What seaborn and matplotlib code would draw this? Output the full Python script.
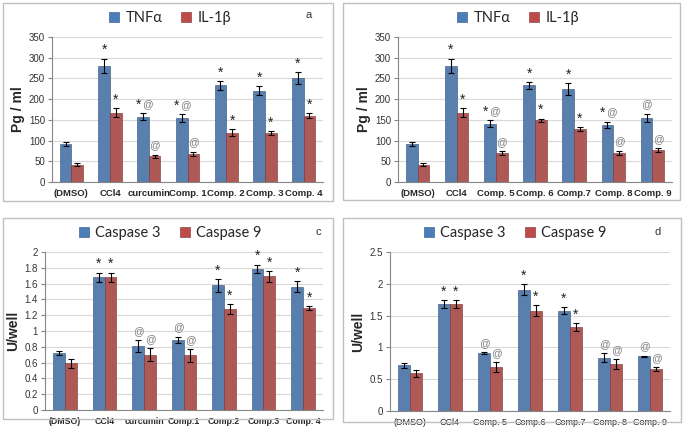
import pandas as pd
import numpy as np
import matplotlib.pyplot as plt
import seaborn as sns
from matplotlib.patches import Patch, Rectangle

sns.set_style("white")
plt.rcParams['font.family'] = ['Liberation Sans', 'DejaVu Sans']

BLUE = '#4A7EBB'
RED = '#BE4B48'

# ---- data ----
groups_a = ['(DMSO)', 'CCl4', 'curcumin', 'Comp. 1', 'Comp. 2', 'Comp. 3', 'Comp. 4']
tnf_a = [92, 281, 158, 154, 233, 220, 251]
tnf_a_err = [4, 17, 8, 10, 10, 11, 14]
il_a = [42, 167, 62, 68, 119, 118, 160]
il_a_err = [3, 11, 4, 5, 8, 4, 6]
tnf_a_marks = ['', '*', '*@', '*@', '*', '*', '*']
il_a_marks = ['', '*', '@', '@', '*', '*', '*']

groups_b = ['(DMSO)', 'CCl4', 'Comp. 5', 'Comp. 6', 'Comp.7', 'Comp. 8', 'Comp. 9']
tnf_b = [92, 281, 141, 233, 225, 138, 155]
tnf_b_err = [4, 17, 8, 8, 14, 8, 10]
il_b = [42, 167, 69, 149, 128, 71, 77]
il_b_err = [3, 11, 5, 4, 5, 5, 5]
tnf_b_marks = ['', '*', '*@', '*', '*', '*@', '@']
il_b_marks = ['', '*', '@', '*', '*', '@', '@']

groups_c = ['(DMSO)', 'CCl4', 'curcumin', 'Comp.1', 'Comp.2', 'Comp.3', 'Comp. 4']
casp3_c = [0.72, 1.68, 0.81, 0.89, 1.58, 1.79, 1.56]
casp3_c_err = [0.03, 0.06, 0.07, 0.04, 0.08, 0.05, 0.07]
casp9_c = [0.59, 1.68, 0.70, 0.69, 1.28, 1.69, 1.29]
casp9_c_err = [0.06, 0.06, 0.08, 0.08, 0.06, 0.07, 0.03]
casp3_c_marks = ['', '*', '@', '@', '*', '*', '*']
casp9_c_marks = ['', '*', '@', '@', '*', '*', '*']

groups_d = ['(DMSO)', 'CCl4', 'Comp. 5', 'Comp.6', 'Comp.7', 'Comp. 8', 'Comp. 9']
casp3_d = [0.72, 1.68, 0.91, 1.91, 1.58, 0.84, 0.86]
casp3_d_err = [0.04, 0.06, 0.01, 0.08, 0.06, 0.07, 0.01]
casp9_d = [0.59, 1.68, 0.69, 1.58, 1.32, 0.74, 0.66]
casp9_d_err = [0.06, 0.06, 0.08, 0.08, 0.06, 0.08, 0.03]
casp3_d_marks = ['', '*', '@', '*', '*', '@', '@']
casp9_d_marks = ['', '*', '@', '*', '*', '@', '@']


def put_marks(ax, container, vals, errs, marks):
    for bar, v, e, m in zip(container.patches, vals, errs, marks):
        if not m:
            continue
        x = bar.get_x() + bar.get_width() / 2
        y = v + e
        if m == '*@':
            ax.annotate('*', (x, y), xytext=(-3.5, 1), textcoords='offset points',
                        ha='center', va='bottom', fontsize=10, color='#222222')
            ax.annotate('@', (x, y), xytext=(3, 3), textcoords='offset points',
                        ha='center', va='bottom', fontsize=7.5, color='#808080')
        elif m == '*':
            ax.annotate('*', (x, y), xytext=(0, 1), textcoords='offset points',
                        ha='center', va='bottom', fontsize=10, color='#222222')
        else:
            ax.annotate('@', (x, y), xytext=(0, 3), textcoords='offset points',
                        ha='center', va='bottom', fontsize=7.5, color='#808080')


def panel(fig, rect, border, groups, names, s1, e1, s2, e2, m1, m2,
          ymax, ystep, ylabel, letter, legend_xy, letter_xy,
          xbold=True, xsize=6.8):
    # grey frame around the panel
    fig.patches.append(Rectangle((border[0], border[1]), border[2], border[3],
                                 transform=fig.transFigure, fill=False,
                                 edgecolor='#BFBFBF', lw=1.0))
    ax = fig.add_axes(rect)
    df = pd.DataFrame({
        'group': groups * 2,
        'series': [names[0]] * len(groups) + [names[1]] * len(groups),
        'value': s1 + s2,
    })
    sns.barplot(data=df, x='group', y='value', hue='series',
                palette=[BLUE, RED], width=0.6, legend=False, ax=ax,
                edgecolor='#2F4F7A', linewidth=0.4, errorbar=None)
    for cont, vals, errs, marks in zip(ax.containers, [s1, s2], [e1, e2], [m1, m2]):
        xs = [b.get_x() + b.get_width() / 2 for b in cont.patches]
        ax.errorbar(xs, vals, yerr=errs, fmt='none', ecolor='black',
                    elinewidth=0.8, capsize=2.5, capthick=0.8)
        put_marks(ax, cont, vals, errs, marks)
    for b in ax.containers[1].patches:
        b.set_edgecolor('#7A2E2C')

    ticks = np.arange(0, ymax + ystep / 2, ystep)
    ax.set_ylim(0, ymax)
    ax.set_yticks(ticks)
    ax.set_yticklabels(['%g' % round(t, 2) for t in ticks])
    ax.set_xlim(-0.5, len(groups) - 0.5)
    ax.yaxis.grid(True, color='#D9D9D9', lw=0.8)
    ax.set_axisbelow(True)
    for sp in ['top', 'right']:
        ax.spines[sp].set_visible(False)
    for sp in ['left', 'bottom']:
        ax.spines[sp].set_color('#868686')
        ax.spines[sp].set_linewidth(0.8)
    ax.set_xticks(np.arange(-0.5, len(groups), 1.0), minor=True)
    ax.tick_params(axis='x', which='major', length=0, labelsize=xsize, pad=5)
    ax.tick_params(axis='x', which='minor', length=3, color='#868686')
    ax.tick_params(axis='y', length=3, color='#868686', labelsize=7,
                   labelcolor='#333333', pad=2, left=True)
    for lab in ax.get_xticklabels():
        lab.set_fontweight('bold' if xbold else 'normal')
    ax.set_xlabel('')
    ax.set_ylabel(ylabel, fontsize=10, fontweight='bold', labelpad=3)

    handles = [Patch(facecolor=BLUE, edgecolor='#2F4F7A', lw=0.4),
               Patch(facecolor=RED, edgecolor='#7A2E2C', lw=0.4)]
    fig.legend(handles, names, loc='center', bbox_to_anchor=legend_xy,
               ncol=2, frameon=False, handlelength=0.7,
               handleheight=0.7, handletextpad=0.4, columnspacing=1.3,
               prop={'family': ['Lato', 'DejaVu Sans'], 'size': 10.5})
    if letter:
        fig.text(letter_xy[0], letter_xy[1], letter, fontsize=8,
                 ha='center', va='center', color='#333333')
    return ax


W, H = 685, 433
fig = plt.figure(figsize=(6.85, 4.33), dpi=100)


def fx(px):
    return px / W


def fy(py):
    return 1 - py / H


panel(fig, [fx(52), fy(182), fx(323 - 52), (182 - 37) / H],
      [fx(3), fy(201), fx(330), (201 - 3) / H],
      groups_a, ['TNFα', 'IL-1β'], tnf_a, tnf_a_err, il_a, il_a_err,
      tnf_a_marks, il_a_marks, 350, 50, 'Pg / ml', 'a',
      (fx(170), fy(18)), (fx(309), fy(15)))

panel(fig, [fx(398), fy(182), fx(672 - 398), (182 - 37) / H],
      [fx(343), fy(200), fx(337), (200 - 3) / H],
      groups_b, ['TNFα', 'IL-1β'], tnf_b, tnf_b_err, il_b, il_b_err,
      tnf_b_marks, il_b_marks, 350, 50, 'Pg / ml', '',
      (fx(518), fy(18)), (0, 0))

panel(fig, [fx(45), fy(410), fx(323 - 45), (410 - 252) / H],
      [fx(3), fy(419), fx(330), (419 - 218) / H],
      groups_c, ['Caspase 3', 'Caspase 9'], casp3_c, casp3_c_err, casp9_c, casp9_c_err,
      casp3_c_marks, casp9_c_marks, 2, 0.2, 'U/well', 'c',
      (fx(170), fy(233)), (fx(318), fy(232)), xsize=6.3)

panel(fig, [fx(390), fy(411), fx(670 - 390), (411 - 252) / H],
      [fx(343), fy(422), fx(338), (422 - 218) / H],
      groups_d, ['Caspase 3', 'Caspase 9'], casp3_d, casp3_d_err, casp9_d, casp9_d_err,
      casp3_d_marks, casp9_d_marks, 2.5, 0.5, 'U/well', 'd',
      (fx(515), fy(233)), (fx(658), fy(232)), xbold=False, xsize=6.5)

plt.savefig('out.png', dpi=100)
